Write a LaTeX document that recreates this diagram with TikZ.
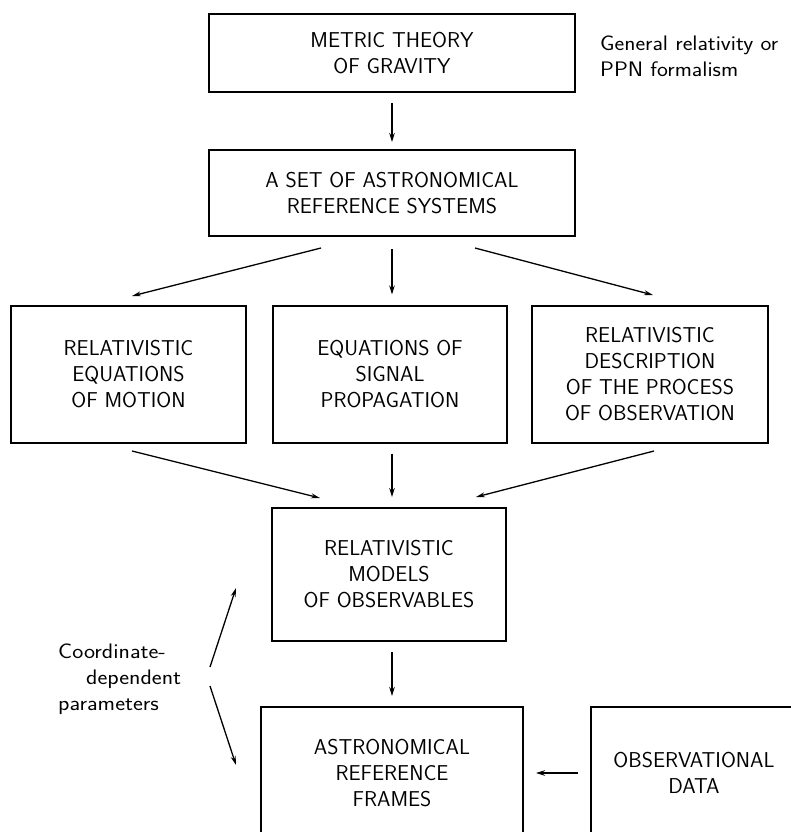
\documentclass[tikz,border=0pt]{standalone}
\usetikzlibrary{arrows.meta,calc}
\begin{document}
\begin{tikzpicture}[x=1pt,y=-1pt,
  every node/.style={font=\fontsize{21.5}{26}\selectfont\sffamily},
  box/.style={draw,line width=2pt,align=center,inner sep=0pt},
  arr/.style={line width=1.3pt,-{Stealth[length=9pt,width=5pt]}},
  varr/.style={line width=1.8pt,-{Stealth[length=9pt,width=5.5pt]}},
  lbl/.style={inner sep=0pt,font=\fontsize{21}{26}\selectfont\sffamily}]
\useasboundingbox (0,0) rectangle (791,832);
\clip (0,0) rectangle (791,832);
% boxes
\node[box,minimum width=366,minimum height=78] (b1) at (392,53) {METRIC THEORY\\OF GRAVITY};
\node[box,minimum width=366,minimum height=86] (b2) at (392,193) {A SET OF ASTRONOMICAL\\REFERENCE SYSTEMS};
\node[box,minimum width=235,minimum height=137] (b3l) at (128.5,374) {RELATIVISTIC\\EQUATIONS\\OF MOTION};
\node[box,minimum width=234,minimum height=137] (b3m) at (390,374) {EQUATIONS OF\\SIGNAL\\PROPAGATION};
\node[box,minimum width=236,minimum height=137] (b3r) at (650,374) {RELATIVISTIC\\DESCRIPTION\\OF THE PROCESS\\OF OBSERVATION};
\node[box,minimum width=234,minimum height=133] (b4) at (389,574.5) {RELATIVISTIC\\MODELS\\OF OBSERVABLES};
\node[box,minimum width=262,minimum height=132] (b5) at (392,773) {ASTRONOMICAL\\REFERENCE\\FRAMES};
\node[box,minimum width=206,minimum height=132] (b6) at (694,773) {OBSERVATIONAL\\DATA};
% labels
\node[lbl,anchor=west] (gr) at (600,58) {\scalebox{1.1}[1]{\begin{tabular}{@{}l@{}}General relativity or\\PPN formalism\end{tabular}}};
\node[lbl,anchor=west] (cd) at (58,679) {\scalebox{1.12}[1]{\begin{tabular}{@{}l@{}}Coordinate-\\\hspace*{25pt}dependent\\parameters\end{tabular}}};
% connectors
\draw[varr,shorten <=10pt,shorten >=7pt] (b1) -- (b2);
\coordinate (s1) at (321,248); \coordinate (e1) at (132,296);
\coordinate (s3) at (475,248); \coordinate (e3) at (653,295);
\draw[arr] (s1) -- (e1);
\draw[varr,shorten <=12pt,shorten >=10pt] (b2.south) -- (b2.south |- b3m.north);
\draw[arr] (s3) -- (e3);
\coordinate (s4) at (132,451); \coordinate (e4) at (320,498);
\coordinate (s6) at (654,451); \coordinate (e6) at (476,497);
\draw[arr] (s4) -- (e4);
\draw[varr,shorten <=10pt,shorten >=10pt] (b2.south |- b3m.south) -- (b2.south |- b4.north);
\draw[arr] (s6) -- (e6);
\draw[varr,shorten <=10pt,shorten >=10pt] (b4.south -| b5) -- (b5.north);
\draw[varr,shorten <=12pt,shorten >=12pt] (b6) -- (b5);
\coordinate (cu) at (210,667); \coordinate (cue) at (236,588);
\coordinate (cl) at (210,686); \coordinate (cle) at (236,765);
\draw[arr] (cu) -- (cue);
\draw[arr] (cl) -- (cle);
\end{tikzpicture}
\end{document}
